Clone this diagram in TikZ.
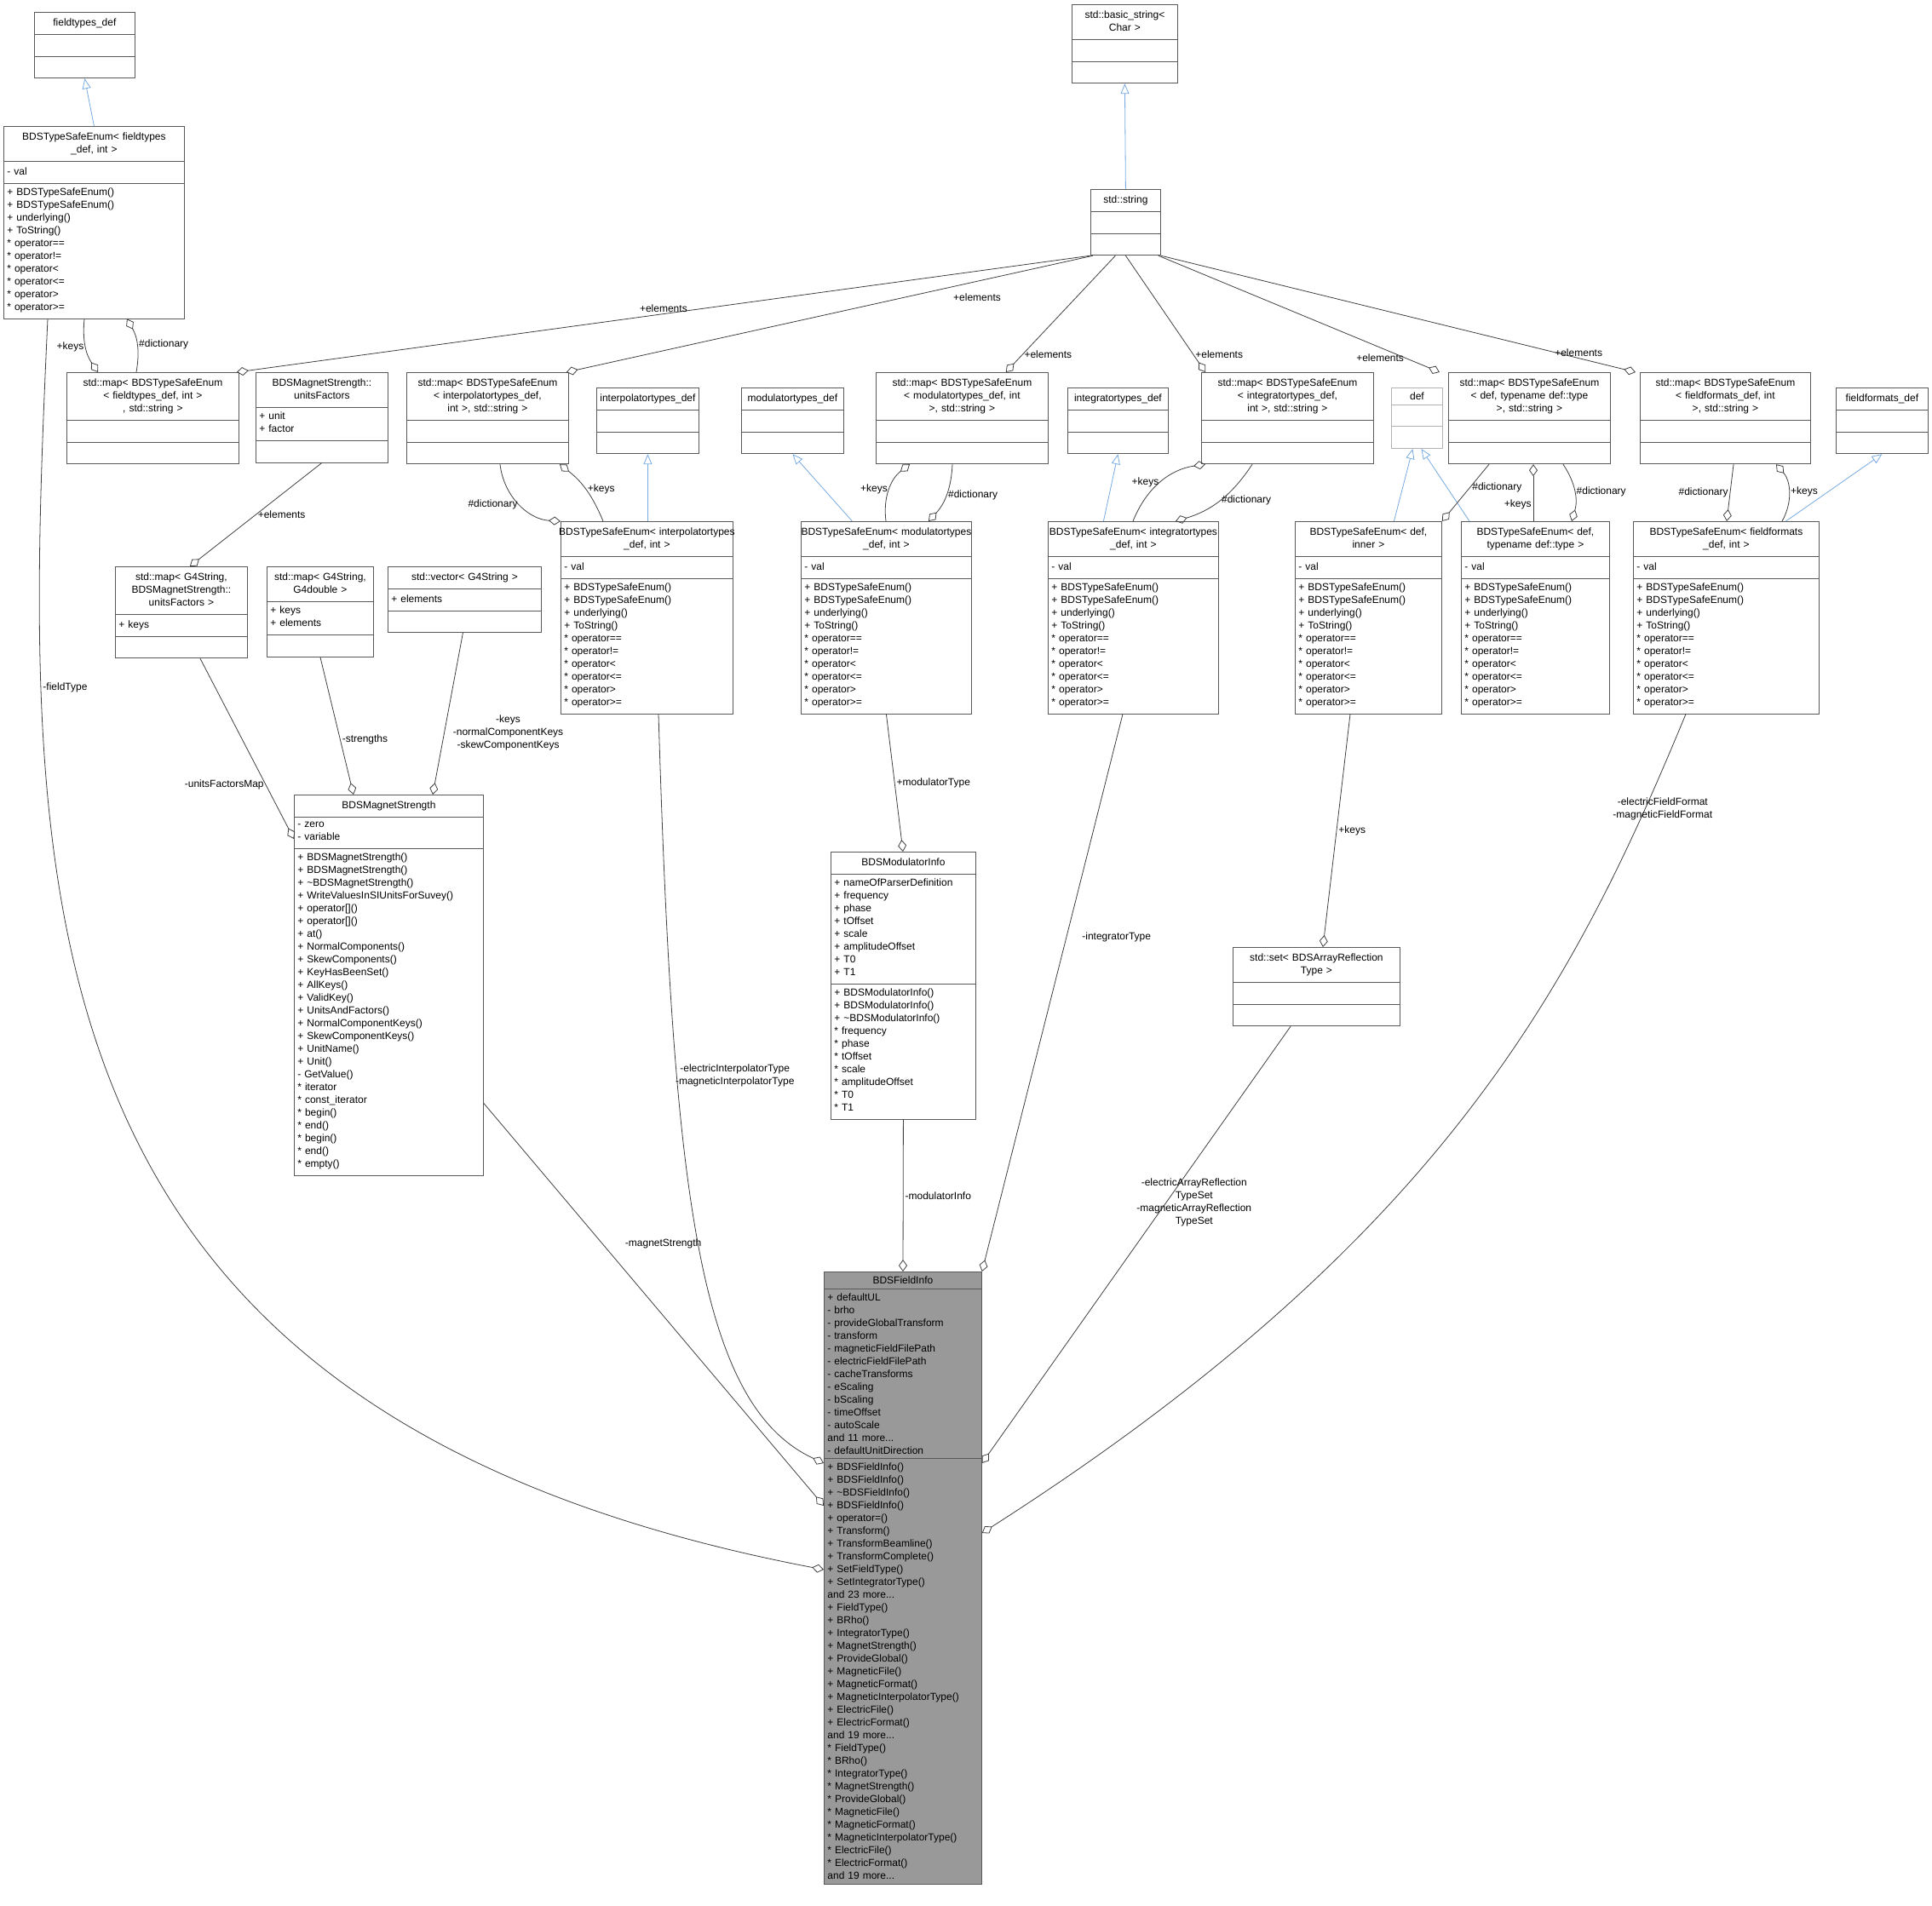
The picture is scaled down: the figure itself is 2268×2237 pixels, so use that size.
\documentclass[tikz,border=0pt]{standalone}
\usepackage{fontspec}
\setmainfont{Liberation Sans}
\usetikzlibrary{shapes.multipart,arrows.meta,calc}
\newcommand\cls[7]{\node[cls,text width=\dimexpr#4pt/2-4pt\relax] (#1) at (#2,#3) {\makebox[\linewidth]{\begin{tabular}{@{}c@{}}#5\end{tabular}}\par\nodepart{two}#6\strut\par\nodepart{three}#7\strut\par};}
\begin{document}
\begin{tikzpicture}[x=0.5pt,y=-0.5pt,
 every node/.style={font=\fontsize{6}{7.5}\selectfont},
 cls/.style={rectangle split,rectangle split parts=3,draw=black!65,anchor=north west,align=left,inner xsep=2pt,inner ysep=2.5pt,fill=white,line width=0.4pt},
 agg/.style={draw=black!75,line width=0.4pt,-{Diamond[open,length=7pt,width=5pt]}},
 inh/.style={draw=cyan!60!blue!55,line width=0.4pt,-{Triangle[open,length=6pt,width=5pt]}},
 lbl/.style={align=center,inner sep=1pt}]
\useasboundingbox (0,0) rectangle (2268,2237);
\def\ops{+ BDSTypeSafeEnum()\\+ BDSTypeSafeEnum()\\+ underlying()\\+ ToString()\\{*} operator==\\{*} operator!=\\{*} operator<\\{*} operator<=\\{*} operator>\\{*} operator>=}
% classes
\cls{ftd}{40}{14}{118}{fieldtypes\_def}{}{}
\cls{ftE}{4}{148}{212}{BDSTypeSafeEnum< fieldtypes\\\_def, int >}{- val}{\ops}
\cls{bs}{1258}{5}{124}{std::basic\_string<\\Char >}{}{}
\cls{str}{1280}{222}{82}{std::string}{}{}
\cls{ftM}{78}{437}{202}{std::map< BDSTypeSafeEnum\\< fieldtypes\_def, int >\\, std::string >}{}{}
\cls{uf}{300}{437}{155}{BDSMagnetStrength::\\unitsFactors}{+ unit\\+ factor}{}
\cls{ipM}{477}{437}{190}{std::map< BDSTypeSafeEnum\\< interpolatortypes\_def,\\ int >, std::string >}{}{}
\cls{ipd}{700}{455}{120}{interpolatortypes\_def}{}{}
\cls{mdd}{870}{455}{120}{modulatortypes\_def}{}{}
\cls{mdM}{1028}{437}{202}{std::map< BDSTypeSafeEnum\\< modulatortypes\_def, int\\>, std::string >}{}{}
\cls{itd}{1253}{455}{118}{integratortypes\_def}{}{}
\cls{itM}{1410}{437}{202}{std::map< BDSTypeSafeEnum\\< integratortypes\_def,\\ int >, std::string >}{}{}
\node[cls,draw=black!30,text width=\dimexpr60pt/2-4pt\relax] (def) at (1633,455) {\centering def\par\nodepart{two}\strut\par\nodepart{three}\strut\par};
\cls{dfM}{1700}{437}{190}{std::map< BDSTypeSafeEnum\\< def, typename def::type\\>, std::string >}{}{}
\cls{ffM}{1925}{437}{200}{std::map< BDSTypeSafeEnum\\< fieldformats\_def, int\\>, std::string >}{}{}
\cls{ffd}{2155}{455}{108}{fieldformats\_def}{}{}
\cls{gufM}{135}{665}{155}{std::map< G4String,\\BDSMagnetStrength::\\unitsFactors >}{+ keys}{}
\cls{gdM}{313}{665}{125}{std::map< G4String,\\G4double >}{+ keys\\+ elements}{}
\cls{vec}{455}{665}{180}{std::vector< G4String >}{+ elements}{}
\cls{ipE}{658}{612}{202}{BDSTypeSafeEnum< interpolatortypes\\\_def, int >}{- val}{\ops}
\cls{mdE}{940}{612}{200}{BDSTypeSafeEnum< modulatortypes\\\_def, int >}{- val}{\ops}
\cls{itE}{1230}{612}{200}{BDSTypeSafeEnum< integratortypes\\\_def, int >}{- val}{\ops}
\cls{diE}{1520}{612}{172}{BDSTypeSafeEnum< def,\\inner >}{- val}{\ops}
\cls{dtE}{1715}{612}{174}{BDSTypeSafeEnum< def,\\typename def::type >}{- val}{\ops}
\cls{ffE}{1917}{612}{218}{BDSTypeSafeEnum< fieldformats\\\_def, int >}{- val}{\ops}
\cls{ms}{345}{933}{222}{BDSMagnetStrength}{- zero\\- variable}{+ BDSMagnetStrength()\\+ BDSMagnetStrength()\\+ \textasciitilde BDSMagnetStrength()\\+ WriteValuesInSIUnitsForSuvey()\\+ operator[]()\\+ operator[]()\\+ at()\\+ NormalComponents()\\+ SkewComponents()\\+ KeyHasBeenSet()\\+ AllKeys()\\+ ValidKey()\\+ UnitsAndFactors()\\+ NormalComponentKeys()\\+ SkewComponentKeys()\\+ UnitName()\\+ Unit()\\- GetValue()\\{*} iterator\\{*} const\_iterator\\{*} begin()\\{*} end()\\{*} begin()\\{*} end()\\{*} empty()}
\cls{mi}{975}{1000}{170}{BDSModulatorInfo}{+ nameOfParserDefinition\\+ frequency\\+ phase\\+ tOffset\\+ scale\\+ amplitudeOffset\\+ T0\\+ T1}{+ BDSModulatorInfo()\\+ BDSModulatorInfo()\\+ \textasciitilde BDSModulatorInfo()\\{*} frequency\\{*} phase\\{*} tOffset\\{*} scale\\{*} amplitudeOffset\\{*} T0\\{*} T1}
\cls{set}{1447}{1112}{196}{std::set< BDSArrayReflection\\Type >}{}{}
\node[cls,fill=black!40,text width=\dimexpr185pt/2-4pt\relax] (fi) at (967,1493) {\centering BDSFieldInfo\par\nodepart{two}+ defaultUL\\- brho\\- provideGlobalTransform\\- transform\\- magneticFieldFilePath\\- electricFieldFilePath\\- cacheTransforms\\- eScaling\\- bScaling\\- timeOffset\\- autoScale\\and 11 more...\\- defaultUnitDirection\par\nodepart{three}+ BDSFieldInfo()\\+ BDSFieldInfo()\\+ \textasciitilde BDSFieldInfo()\\+ BDSFieldInfo()\\+ operator=()\\+ Transform()\\+ TransformBeamline()\\+ TransformComplete()\\+ SetFieldType()\\+ SetIntegratorType()\\and 23 more...\\+ FieldType()\\+ BRho()\\+ IntegratorType()\\+ MagnetStrength()\\+ ProvideGlobal()\\+ MagneticFile()\\+ MagneticFormat()\\+ MagneticInterpolatorType()\\+ ElectricFile()\\+ ElectricFormat()\\and 19 more...\\{*} FieldType()\\{*} BRho()\\{*} IntegratorType()\\{*} MagnetStrength()\\{*} ProvideGlobal()\\{*} MagneticFile()\\{*} MagneticFormat()\\{*} MagneticInterpolatorType()\\{*} ElectricFile()\\{*} ElectricFormat()\\and 19 more...\par};
% inheritance
\draw[inh] (ftE.north) -- (ftd.south);
\draw[inh] (str.north) -- (bs.south);
\draw[inh] (ipE.north -| ipd.south) -- (ipd.south);
\draw[inh] ($(mdE.north)+(-40,0)$) -- (mdd.south);
\draw[inh] ($(itE.north)+(-35,0)$) -- (itd.south);
\draw[inh] ($(diE.north)+(30,0)$) -- ($(def.south)+(-5,0)$);
\draw[inh] ($(dtE.north west)+(10,0)$) -- ($(def.south)+(5,0)$);
\draw[inh] ($(ffE.north)+(70,0)$) -- (ffd.south);
% string elements
\draw[agg] ($(str.south west)+(0,0)$) -- ($(ftM.north east)+(-3,0)$) node[pos=0.5,above,lbl]{+elements};
\draw[agg] ($(str.south west)+(3,0)$) -- ($(ipM.north east)+(-3,0)$) node[pos=0.22,below,lbl,yshift=-6pt]{+elements};
\draw[agg] ($(str.south)+(-12,0)$) -- ($(mdM.north east)+(-50,0)$) node[pos=0.85,right,lbl]{+elements};
\draw[agg] ($(str.south)+(0,0)$) -- ($(itM.north west)+(5,0)$) node[pos=0.85,right,lbl]{+elements};
\draw[agg] ($(str.south east)+(-3,0)$) -- ($(dfM.north west)+(-10,0)$) node[pos=0.88,left,lbl]{+elements};
\draw[agg] ($(str.south east)$) -- ($(ffM.north west)+(-5,0)$) node[pos=0.88,above,lbl]{+elements};
% keys / dictionary
\draw[agg] ($(ftE.south west)+(95,0)$) to[bend right=20] node[left,lbl]{+keys} ($(ftM.north west)+(37,0)$);
\draw[agg] ($(ftM.north west)+(82,0)$) to[bend right=20] node[right,lbl]{\#dictionary} ($(ftE.south west)+(145,0)$);
\draw[agg] ($(ipM.south west)+(110,0)$) to[bend right=40] node[left,lbl]{\#dictionary} ($(ipE.north west)+(0,0)$);
\draw[agg] ($(ipE.north west)+(50,0)$) to[bend right=15] node[right,lbl]{+keys} ($(ipM.south west)+(180,0)$);
\draw[agg] ($(mdE.north west)+(100,0)$) to[bend left=30] node[left,lbl]{+keys} ($(mdM.south west)+(40,0)$);
\draw[agg] ($(mdM.south west)+(90,0)$) to[bend left=20] node[right,lbl]{\#dictionary} ($(mdE.north west)+(150,0)$);
\draw[agg] ($(itE.north west)+(100,0)$) to[bend left=30] node[left,lbl]{+keys} ($(itM.south west)+(5,0)$);
\draw[agg] ($(itM.south west)+(60,0)$) to[bend left=20] node[right,lbl]{\#dictionary} ($(itE.north west)+(150,0)$);
\draw[agg] ($(dfM.south west)+(48,0)$) -- node[right,lbl,pos=0.4]{\#dictionary} ($(diE.north east)+(0,0)$);
\draw[agg] ($(dtE.north west)+(85,0)$) -- node[left,lbl,pos=0.3]{+keys} ($(dfM.south west)+(100,0)$);
\draw[agg] ($(dfM.south west)+(135,0)$) to[bend left=25] node[right,lbl]{\#dictionary} ($(dtE.north west)+(130,0)$);
\draw[agg] ($(ffM.south west)+(110,0)$) -- node[left,lbl]{\#dictionary} ($(ffE.north west)+(110,0)$);
\draw[agg] ($(ffE.north west)+(175,0)$) to[bend right=35] node[right,lbl]{+keys} ($(ffM.south west)+(160,0)$);
% misc
\draw[agg] (uf.south) -- node[right,lbl]{+elements} ($(gufM.north)+(10,0)$);
\draw[agg] ($(gufM.south west)+(100,0)$) -- node[left,lbl,pos=0.7]{-unitsFactorsMap} ($(ms.north west)+(0,52)$);
\draw[agg] (gdM.south) -- node[right,lbl,pos=0.6]{-strengths} ($(ms.north west)+(70,0)$);
\draw[agg] ($(vec.south)+(-2,0)$) -- node[right,lbl,pos=0.62,xshift=4pt]{-keys\\-normalComponentKeys\\-skewComponentKeys} ($(ms.north west)+(163,0)$);
\draw[agg] (mdE.south) -- node[right,lbl]{+modulatorType} ($(mi.north west)+(85,0)$);
\draw[agg] ($(diE.south west)+(65,0)$) -- node[right,lbl]{+keys} ($(set.north west)+(106,0)$);
\draw[agg] (mi.south) -- node[right,lbl]{-modulatorInfo} ($(fi.north west)+(93,0)$);
\draw[agg] ($(ftE.south west)+(52,0)$) .. controls (25,1050) and (10,1660) .. node[pos=0.22,right,lbl]{-fieldType} ($(fi.north west)+(0,350)$);
\draw[agg] ($(ms.south east)+(0,-85)$) -- node[pos=0.35,right,lbl,xshift=12pt]{-magnetStrength} ($(fi.north west)+(0,275)$);
\draw[agg] ($(ipE.south west)+(115,0)$) .. controls (790,1400) and (820,1650) .. node[pos=0.3,right,lbl,xshift=-2pt]{-electricInterpolatorType\\-magneticInterpolatorType} ($(fi.north west)+(0,225)$);
\draw[agg] ($(itE.south west)+(88,0)$) -- node[pos=0.4,right,lbl,xshift=8pt]{-integratorType} (fi.north east);
\draw[agg] ($(set.south west)+(68,0)$) -- node[pos=0.45,right,lbl,xshift=-10pt,yshift=12pt]{-electricArrayReflection\\TypeSet\\-magneticArrayReflection\\TypeSet} ($(fi.north east)+(0,225)$);
\draw[agg] ($(ffE.south west)+(62,0)$) .. controls (1850,1150) and (1700,1450) .. node[pos=0.12,right,lbl,xshift=-20pt]{-electricFieldFormat\\-magneticFieldFormat} ($(fi.north east)+(0,307)$);
\end{tikzpicture}
\end{document}
